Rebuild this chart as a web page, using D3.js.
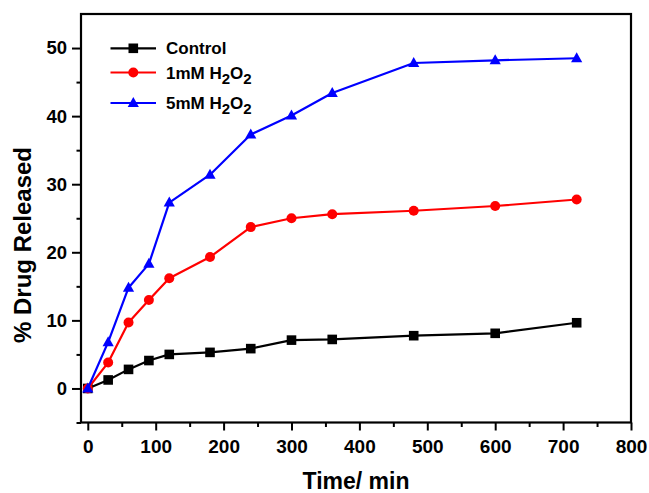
<!DOCTYPE html>
<html><head><meta charset="utf-8">
<script src="https://cdn.jsdelivr.net/npm/d3@7"></script>
<style>
html,body{margin:0;padding:0;background:#fff;}
svg text{font-family:"Liberation Sans",Arial,sans-serif;font-weight:bold;fill:#000;}
</style></head>
<body>
<svg id="c" width="649" height="493"></svg>
<script>
const times = [0, 30, 60, 90, 120, 180, 240, 300, 360, 480, 600, 720];
const control = [0, 1.25, 2.8, 4.1, 5.0, 5.3, 5.85, 7.1, 7.2, 7.75, 8.1, 9.65];
const h2o2_1mM = [0, 3.8, 9.7, 13.0, 16.2, 19.3, 23.7, 25.0, 25.6, 26.1, 26.8, 27.75];
const h2o2_5mM = [0, 6.8, 14.8, 18.3, 27.3, 31.4, 37.3, 40.1, 43.4, 47.8, 48.2, 48.5];
const xTicks = [0, 100, 200, 300, 400, 500, 600, 700, 800];
const xMinor = [50, 150, 250, 350, 450, 550, 650, 750];
const yTicks = [0, 10, 20, 30, 40, 50];
const yMinor = [-5, 5, 15, 25, 35, 45];
const seriesNames = ["Control", "1mM H2O2", "5mM H2O2"];
const seriesColors = ["#000000", "#ff0000", "#0000ff"];
const seriesShapes = ["square", "circle", "triangle"];

const svg = d3.select("#c");
const L = 81, R = 631, T = 14, B = 422.5;
const x = d3.scaleLinear().domain([-10, 800]).range([L, R]);
const y = d3.scaleLinear().domain([-5, 55]).range([B, T]);

// frame
svg.append("rect").attr("x", L).attr("y", T).attr("width", R - L).attr("height", B - T)
  .attr("fill", "none").attr("stroke", "#000").attr("stroke-width", 2.2);

// x axis
const xAx = svg.append("g").attr("transform", `translate(0,${B})`)
  .call(d3.axisBottom(x).tickValues(xTicks).tickSize(8).tickPadding(9).tickFormat(d3.format("d")));
xAx.select(".domain").remove();
xAx.selectAll("line").attr("stroke-width", 2);
xAx.selectAll("text").style("font-size", "19px");
const xAxM = svg.append("g").attr("transform", `translate(0,${B})`)
  .call(d3.axisBottom(x).tickValues(xMinor).tickSize(4.5).tickFormat(""));
xAxM.select(".domain").remove();
xAxM.selectAll("line").attr("stroke-width", 2);

// y axis
const yAx = svg.append("g").attr("transform", `translate(${L},0)`)
  .call(d3.axisLeft(y).tickValues(yTicks).tickSize(9).tickPadding(5).tickFormat(d3.format("d")));
yAx.select(".domain").remove();
yAx.selectAll("line").attr("stroke-width", 2);
yAx.selectAll("text").style("font-size", "18.5px");
const yAxM = svg.append("g").attr("transform", `translate(${L},0)`)
  .call(d3.axisLeft(y).tickValues(yMinor).tickSize(4.5).tickFormat(""));
yAxM.select(".domain").remove();
yAxM.selectAll("line").attr("stroke-width", 2);

// axis titles
svg.append("text").attr("x", 356).attr("y", 488.5).attr("text-anchor", "middle")
  .style("font-size", "23px").text("Time/ min");
svg.append("text").attr("transform", "translate(31,245) rotate(-90)").attr("text-anchor", "middle")
  .style("font-size", "24px").text("% Drug Released");

// markers
function drawMarker(g, shape, color, cx, cy) {
  if (shape === "square") {
    g.append("rect").attr("x", cx - 4.8).attr("y", cy - 4.8).attr("width", 9.6).attr("height", 9.6).attr("fill", color);
  } else if (shape === "circle") {
    g.append("circle").attr("cx", cx).attr("cy", cy).attr("r", 5).attr("fill", color);
  } else {
    g.append("path").attr("d", `M${cx},${cy - 6}L${cx + 5.6},${cy + 4}L${cx - 5.6},${cy + 4}Z`).attr("fill", color);
  }
}

const allSeries = [control, h2o2_1mM, h2o2_5mM];
const line = d3.line().x(d => x(d[0])).y(d => y(d[1]));
allSeries.forEach((vals, i) => {
  const pts = times.map((t, j) => [t, vals[j]]);
  const g = svg.append("g");
  g.append("path").datum(pts).attr("d", line).attr("fill", "none")
    .attr("stroke", seriesColors[i]).attr("stroke-width", 2.2).attr("stroke-linejoin", "round");
  pts.forEach(p => drawMarker(g, seriesShapes[i], seriesColors[i], x(p[0]), y(p[1])));
});

// legend
const legY = [48.3, 72.5, 103];
seriesNames.forEach((name, i) => {
  const g = svg.append("g");
  g.append("line").attr("x1", 110.5).attr("x2", 156).attr("y1", legY[i]).attr("y2", legY[i])
    .attr("stroke", seriesColors[i]).attr("stroke-width", 2.2);
  drawMarker(g, seriesShapes[i], seriesColors[i], 133.3, legY[i]);
  const t = g.append("text").attr("x", 166).attr("y", legY[i] + 6).style("font-size", "17px");
  const m = name.match(/^(.*?)H2O2$/);
  if (m) {
    t.append("tspan").text(m[1] + "H");
    t.append("tspan").attr("dy", 5).style("font-size", "15px").text("2");
    t.append("tspan").attr("dy", -5).text("O");
    t.append("tspan").attr("dy", 5).style("font-size", "15px").text("2");
  } else {
    t.text(name);
  }
});
</script>
</body></html>
